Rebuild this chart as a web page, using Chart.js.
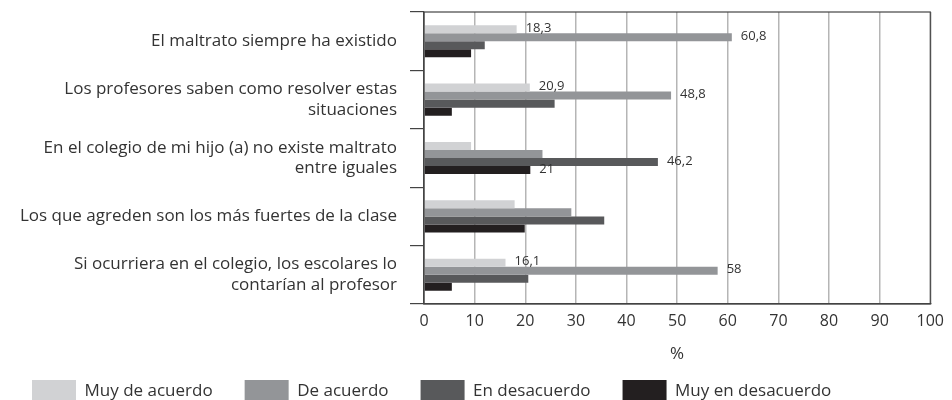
<!DOCTYPE html>
<html>
<head>
<meta charset="utf-8">
<script src="https://cdn.jsdelivr.net/npm/chart.js@4"></script>
<style>
  body { margin: 0; background: #fff; }
  #wrap { width: 952px; height: 400px; }
</style>
</head>
<body>
<div id="wrap"><canvas id="myChart"></canvas></div>
<script>
// --------------- data -----------------------
const categories = [
    'El maltrato siempre ha existido',
    ['Los profesores saben como resolver estas', 'situaciones'],
    ['En el colegio de mi hijo (a) no existe maltrato', 'entre iguales'],
    'Los que agreden son los más fuertes de la clase',
    ['Si ocurriera en el colegio, los escolares lo', 'contarían al profesor']
];
const seriesNames = ['Muy de acuerdo', 'De acuerdo', 'En desacuerdo', 'Muy en desacuerdo'];
const muyDeAcuerdo = [18.3, 20.9, 9.3, 17.9, 16.1];
const deAcuerdo = [60.8, 48.8, 23.4, 29.1, 58];
const enDesacuerdo = [12.0, 25.8, 46.2, 35.6, 20.6];
const muyEnDesacuerdo = [9.3, 5.5, 21, 19.9, 5.5];
const xTicks = [0, 10, 20, 30, 40, 50, 60, 70, 80, 90, 100];
const axisTitle = '%';
// which bars carry a value label: [series, category]
const labelled = [[0, 0], [1, 0], [0, 1], [1, 1], [2, 2], [3, 2], [0, 4], [1, 4]];

const colors = ['#d1d2d4', '#939598', '#58595b', '#231f20'];
const textColor = '#333';
const fontFamily = '"Open Sans", "Noto Sans", sans-serif';

// --------------- plugins -----------------------
// frame round the plot area (top and right lines)
const frame = {
    id: 'frame',
    afterDraw(chart) {
        const {ctx, chartArea} = chart;
        ctx.save();
        ctx.strokeStyle = '#444';
        ctx.lineWidth = 1.2;
        ctx.strokeRect(chartArea.left, chartArea.top, chartArea.right - chartArea.left, chartArea.bottom - chartArea.top);
        ctx.restore();
    }
};

// value labels with decimal comma
const valueLabels = {
    id: 'valueLabels',
    afterDatasetsDraw(chart) {
        const ctx = chart.ctx;
        ctx.save();
        ctx.font = '13px ' + fontFamily;
        ctx.fillStyle = textColor;
        ctx.textAlign = 'left';
        ctx.textBaseline = 'middle';
        labelled.forEach(function(p) {
            const bar = chart.getDatasetMeta(p[0]).data[p[1]];
            const v = chart.data.datasets[p[0]].data[p[1]];
            ctx.fillText(String(v).replace('.', ','), bar.x + 9, bar.y - 1);
        });
        ctx.restore();
    }
};

// --------------- chart -----------------------
const seriesData = [muyDeAcuerdo, deAcuerdo, enDesacuerdo, muyEnDesacuerdo];

const ctx = document.getElementById('myChart').getContext('2d');
const myChart = new Chart(ctx, {
    type: 'bar',
    data: {
        labels: categories,
        datasets: seriesNames.map(function(name, i) {
            return {
                label: name,
                data: seriesData[i],
                backgroundColor: colors[i],
                borderWidth: 0,
                categoryPercentage: 0.55,
                barPercentage: 1.0
            };
        })
    },
    options: {
        indexAxis: 'y',
        responsive: true,
        maintainAspectRatio: false,
        animation: false,
        layout: { padding: { top: 12, right: 21, left: 0, bottom: 0 } },
        scales: {
            x: {
                min: 0,
                max: 100,
                afterBuildTicks: function(scale) {
                    scale.ticks = xTicks.map(function(v) { return { value: v }; });
                },
                afterFit: function(scale) { scale.height = 44; },
                grid: { color: '#b5b5b5', lineWidth: 1.5, drawTicks: false },
                border: { display: true, color: '#444', width: 1.2 },
                ticks: { padding: 8, color: textColor, font: { family: fontFamily, size: 16 } },
                title: {
                    display: true,
                    text: axisTitle,
                    color: textColor,
                    font: { family: fontFamily, size: 17 },
                    padding: { top: 0, bottom: -16 }
                }
            },
            y: {
                afterFit: function(scale) {
                    scale.width = 424;
                    scale.paddingTop = 0;
                    scale.paddingBottom = 0;
                },
                grid: { drawOnChartArea: false, color: '#444', lineWidth: 1.2, tickLength: 14 },
                border: { display: true, color: '#444', width: 1.2 },
                ticks: {
                    padding: 13,
                    color: textColor,
                    font: { family: fontFamily, size: 17, lineHeight: 1.2 }
                }
            }
        },
        plugins: {
            legend: {
                position: 'bottom',
                align: 'start',
                maxHeight: 52,
                labels: {
                    boxWidth: 44,
                    boxHeight: 22,
                    padding: 32,
                    color: textColor,
                    font: { family: fontFamily, size: 17 }
                }
            },
            tooltip: { enabled: false }
        }
    },
    plugins: [frame, valueLabels]
});
</script>
</body>
</html>
